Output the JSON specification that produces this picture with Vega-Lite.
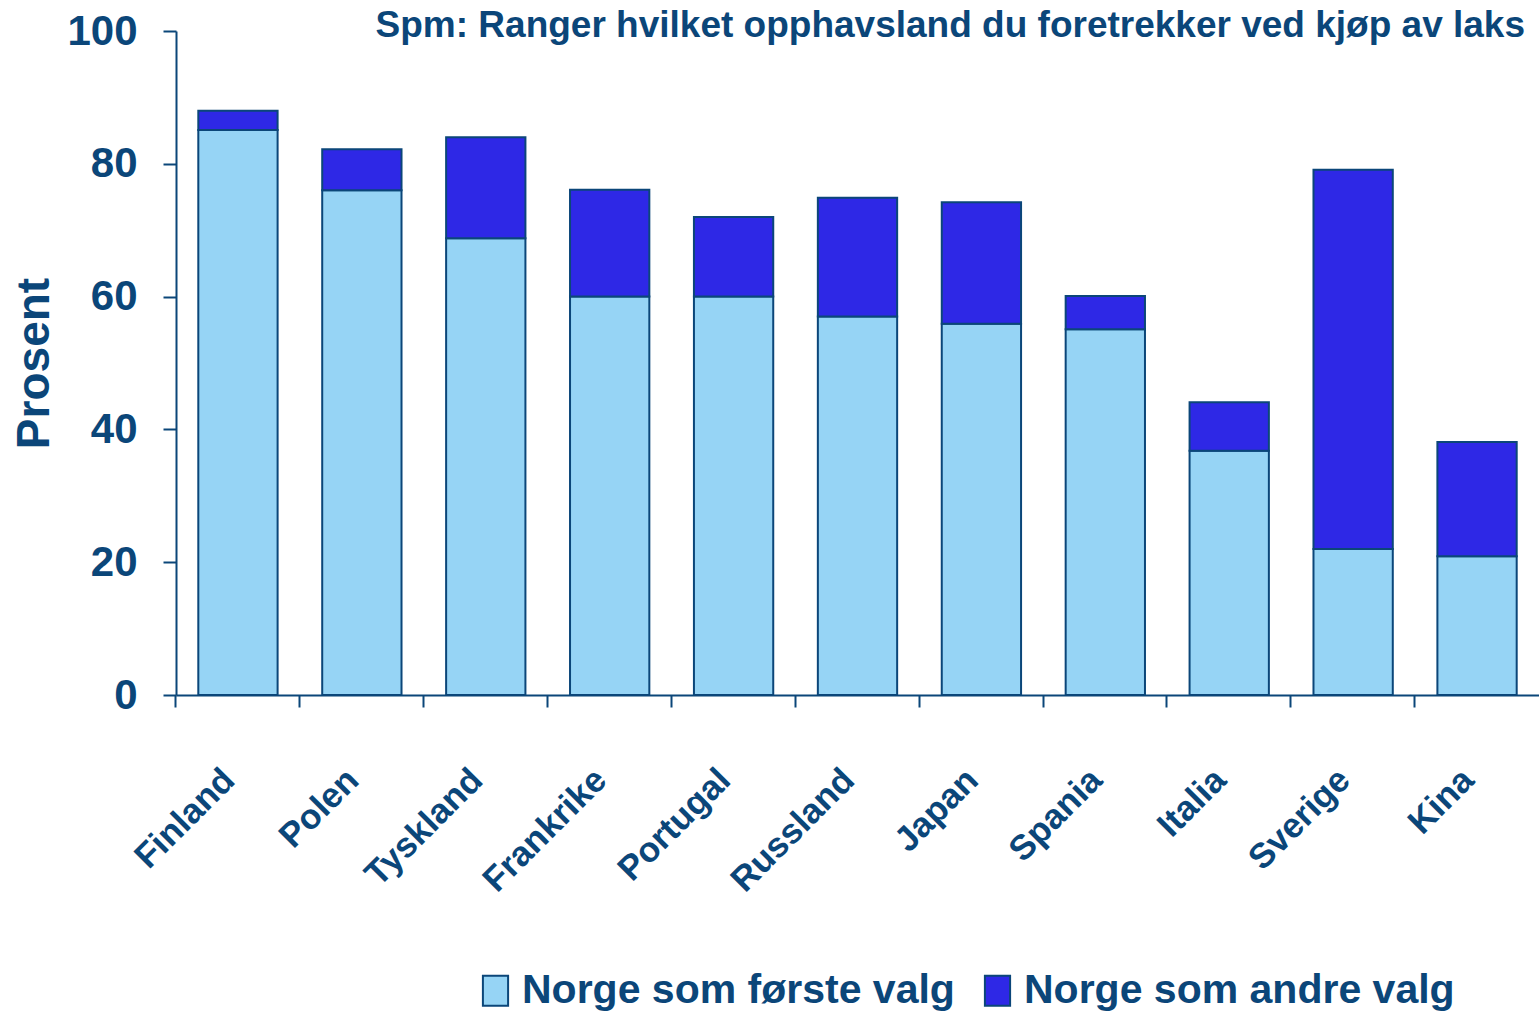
{
  "$schema": "https://vega.github.io/schema/vega-lite/v6.json",
  "autosize": "none",
  "width": 1363,
  "height": 664,
  "padding": {"left": 176, "top": 31, "right": 0, "bottom": 321},
  "background": "white",
  "title": {
    "text": "Spm: Ranger hvilket opphavsland du foretrekker ved kjøp av laks",
    "anchor": "end",
    "frame": "group",
    "offset": 0,
    "dx": -14,
    "dy": 35,
    "font": "Liberation Sans, Arial, sans-serif",
    "fontSize": 37,
    "fontWeight": "bold",
    "color": "#0B4679"
  },
  "data": {
    "values": [
      {"land": "Finland", "serie": "Norge som første valg", "prosent": 85.1},
      {"land": "Finland", "serie": "Norge som andre valg", "prosent": 2.9},
      {"land": "Polen", "serie": "Norge som første valg", "prosent": 76},
      {"land": "Polen", "serie": "Norge som andre valg", "prosent": 6.2},
      {"land": "Tyskland", "serie": "Norge som første valg", "prosent": 68.8},
      {"land": "Tyskland", "serie": "Norge som andre valg", "prosent": 15.2},
      {"land": "Frankrike", "serie": "Norge som første valg", "prosent": 60},
      {"land": "Frankrike", "serie": "Norge som andre valg", "prosent": 16.1},
      {"land": "Portugal", "serie": "Norge som første valg", "prosent": 60},
      {"land": "Portugal", "serie": "Norge som andre valg", "prosent": 12},
      {"land": "Russland", "serie": "Norge som første valg", "prosent": 57},
      {"land": "Russland", "serie": "Norge som andre valg", "prosent": 17.9},
      {"land": "Japan", "serie": "Norge som første valg", "prosent": 55.9},
      {"land": "Japan", "serie": "Norge som andre valg", "prosent": 18.3},
      {"land": "Spania", "serie": "Norge som første valg", "prosent": 55.1},
      {"land": "Spania", "serie": "Norge som andre valg", "prosent": 5},
      {"land": "Italia", "serie": "Norge som første valg", "prosent": 36.8},
      {"land": "Italia", "serie": "Norge som andre valg", "prosent": 7.3},
      {"land": "Sverige", "serie": "Norge som første valg", "prosent": 22},
      {"land": "Sverige", "serie": "Norge som andre valg", "prosent": 57.1},
      {"land": "Kina", "serie": "Norge som første valg", "prosent": 20.9},
      {"land": "Kina", "serie": "Norge som andre valg", "prosent": 17.2}
    ]
  },
  "mark": {"type": "bar", "stroke": "#0B4679", "strokeWidth": 2},
  "encoding": {
    "x": {
      "field": "land",
      "type": "nominal",
      "sort": null,
      "scale": {"paddingInner": 0.36, "paddingOuter": 0.18},
      "axis": {
        "title": null,
        "bandPosition": -0.285,
        "labelOffset": -9,
        "labelAngle": -45,
        "labelAlign": "right",
        "labelBaseline": "middle",
        "labelPadding": 67,
        "labelFont": "Liberation Sans, Arial, sans-serif",
        "labelFontWeight": "bold",
        "labelFontSize": 35,
        "labelColor": "#0B4679",
        "labelOverlap": false,
        "labelBound": false,
        "labelFlush": false,
        "domainColor": "#0B4679",
        "domainWidth": 2,
        "tickColor": "#0B4679",
        "tickWidth": 2,
        "tickSize": 12
      }
    },
    "y": {
      "field": "prosent",
      "type": "quantitative",
      "stack": "zero",
      "scale": {"domain": [0, 100], "nice": false},
      "axis": {
        "title": "Prosent",
        "titleFont": "Liberation Sans, Arial, sans-serif",
        "titleFontSize": 46,
        "titleFontWeight": "bold",
        "titleColor": "#0B4679",
        "titlePadding": 8,
        "values": [0, 20, 40, 60, 80, 100],
        "grid": false,
        "labelFont": "Liberation Sans, Arial, sans-serif",
        "labelFontWeight": "bold",
        "labelFontSize": 42,
        "labelColor": "#0B4679",
        "labelPadding": 26,
        "labelBaseline": "middle",
        "domainColor": "#0B4679",
        "domainWidth": 2,
        "tickColor": "#0B4679",
        "tickWidth": 2,
        "tickSize": 13
      }
    },
    "color": {
      "field": "serie",
      "type": "nominal",
      "scale": {
        "domain": ["Norge som første valg", "Norge som andre valg"],
        "range": ["#96D4F5", "#2E28E6"]
      },
      "legend": {
        "title": null,
        "orient": "none",
        "direction": "horizontal",
        "legendX": 299,
        "legendY": 939,
        "symbolType": "M-0.84,-1H0.84V1H-0.84Z",
        "symbolSize": 900,
        "symbolStrokeColor": "#0B4679",
        "symbolStrokeWidth": 2,
        "symbolOpacity": 1,
        "labelFont": "Liberation Sans, Arial, sans-serif",
        "labelFontWeight": "bold",
        "labelFontSize": 41,
        "labelColor": "#0B4679",
        "labelOffset": 6,
        "labelLimit": 0,
        "columnPadding": 22
      }
    },
    "order": {"field": "serie", "sort": "descending"}
  },
  "config": {"view": {"stroke": null}}
}
